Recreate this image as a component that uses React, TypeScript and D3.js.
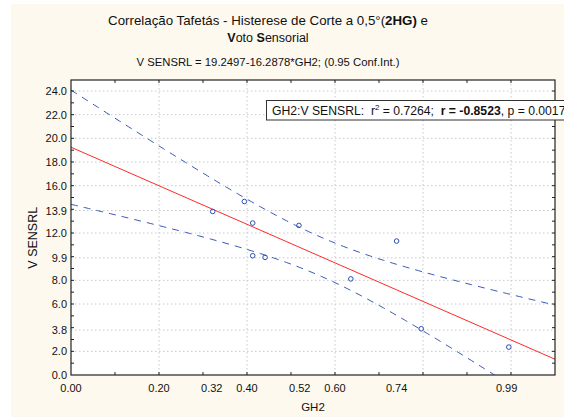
import * as d3 from "d3";
import React, { useEffect, useRef } from "react";

// readings of GH2 / V SENSRL off the reference
const gh2 = [0.322, 0.394, 0.413, 0.413, 0.441, 0.518, 0.636, 0.74, 0.796, 0.995];
const vsens = [13.82, 14.66, 12.84, 10.08, 9.94, 12.64, 8.12, 11.32, 3.91, 2.36];

const xTickLabels = [0.0, 0.2, 0.32, 0.4, 0.52, 0.6, 0.74, 0.99];
const yTickLabels = [0.0, 2.0, 3.8, 6.0, 8.0, 9.9, 12.0, 13.9, 16.0, 18.0, 20.0, 22.0, 24.0];
const xGrid = [0.2, 0.4, 0.6, 0.8, 1.0];

const intercept = 19.2497;
const slope = -16.2878;
const tCrit = 2.306; // t(0.975, 8)

const App = () => {
  const ref = useRef<SVGSVGElement>(null);

  useEffect(() => {
    const width = 564;
    const height = 417;
    const left = 71;
    const right = 555;
    const top = 80;
    const bottom = 375;

    const svg = d3.select(ref.current).attr("width", width).attr("height", height);
    svg.selectAll("*").remove();

    const x = d3.scaleLinear().domain([0, 1.1]).range([left, right]);
    const y = d3.scaleLinear().domain([0, 24.93]).range([bottom, top]);

    svg
      .append("rect")
      .attr("x", 11)
      .attr("y", 4)
      .attr("width", width)
      .attr("height", height)
      .attr("fill", "#fdf9ef");

    svg
      .append("defs")
      .append("clipPath")
      .attr("id", "plot")
      .append("rect")
      .attr("x", left)
      .attr("y", top)
      .attr("width", right - left)
      .attr("height", bottom - top);

    svg
      .append("rect")
      .attr("x", left)
      .attr("y", top)
      .attr("width", right - left)
      .attr("height", bottom - top)
      .attr("fill", "#ffffff");

    const grid = svg.append("g").attr("stroke", "#c8c8c8").attr("stroke-dasharray", "1.5,2.5");
    grid
      .selectAll("line.v")
      .data(xGrid)
      .join("line")
      .attr("class", "v")
      .attr("x1", (d) => x(d))
      .attr("x2", (d) => x(d))
      .attr("y1", top)
      .attr("y2", bottom);
    grid
      .selectAll("line.h")
      .data(yTickLabels.slice(1))
      .join("line")
      .attr("class", "h")
      .attr("x1", left)
      .attr("x2", right)
      .attr("y1", (d) => y(d))
      .attr("y2", (d) => y(d));

    // confidence band for the mean
    const n = gh2.length;
    const xMean = d3.mean(gh2);
    const sxx = d3.sum(gh2, (d) => (d - xMean) ** 2);
    const sse = d3.sum(gh2, (d, i) => (vsens[i] - (intercept + slope * d)) ** 2);
    const s = Math.sqrt(sse / (n - 2));
    const half = (v) => tCrit * s * Math.sqrt(1 / n + (v - xMean) ** 2 / sxx);
    const xs = d3.range(0, 1.1001, 0.01);

    const plot = svg.append("g").attr("clip-path", "url(#plot)");

    const band = d3
      .line()
      .x((d) => x(d[0]))
      .y((d) => y(d[1]));

    plot
      .selectAll("path.ci")
      .data([1, -1])
      .join("path")
      .attr("class", "ci")
      .attr("d", (k) => band(xs.map((v) => [v, intercept + slope * v + k * half(v)])))
      .attr("fill", "none")
      .attr("stroke", "#3a5cb4")
      .attr("stroke-width", 1)
      .attr("stroke-dasharray", "7,6");

    plot
      .append("line")
      .attr("x1", x(0))
      .attr("x2", x(1.1))
      .attr("y1", y(intercept))
      .attr("y2", y(intercept + slope * 1.1))
      .attr("stroke", "#ff2a2a")
      .attr("stroke-width", 1);

    plot
      .selectAll("circle")
      .data(gh2)
      .join("circle")
      .attr("cx", (d) => x(d))
      .attr("cy", (_, i) => y(vsens[i]))
      .attr("r", 2.3)
      .attr("fill", "none")
      .attr("stroke", "#2f4fae")
      .attr("stroke-width", 1);

    // frame and inward ticks
    svg
      .append("rect")
      .attr("x", left)
      .attr("y", top)
      .attr("width", right - left)
      .attr("height", bottom - top)
      .attr("fill", "none")
      .attr("stroke", "#222")
      .attr("stroke-width", 1.2);

    const ticks = svg.append("g").attr("stroke", "#222");
    const xMinor = d3.range(1, 11).map((i) => i / 10);
    const yMinor = d3.range(1, 25);
    ticks
      .selectAll("line.xb")
      .data(xMinor)
      .join("line")
      .attr("x1", (d) => x(d))
      .attr("x2", (d) => x(d))
      .attr("y1", bottom)
      .attr("y2", bottom - 3);
    ticks
      .selectAll("line.xt")
      .data(xMinor)
      .join("line")
      .attr("class", "xt")
      .attr("x1", (d) => x(d))
      .attr("x2", (d) => x(d))
      .attr("y1", top)
      .attr("y2", top + 3);
    ticks
      .selectAll("line.yl")
      .data(yMinor)
      .join("line")
      .attr("class", "yl")
      .attr("x1", left)
      .attr("x2", left + 3)
      .attr("y1", (d) => y(d))
      .attr("y2", (d) => y(d));
    ticks
      .selectAll("line.yr")
      .data(yMinor)
      .join("line")
      .attr("class", "yr")
      .attr("x1", right)
      .attr("x2", right - 3)
      .attr("y1", (d) => y(d))
      .attr("y2", (d) => y(d));

    const font = "Liberation Sans, Arial, sans-serif";

    svg
      .append("g")
      .selectAll("text")
      .data(xTickLabels)
      .join("text")
      .attr("x", (d) => x(d))
      .attr("y", 392)
      .attr("text-anchor", "middle")
      .attr("font-family", font)
      .attr("font-size", 11)
      .attr("fill", "#111")
      .text((d) => d3.format(".2f")(d));

    svg
      .append("g")
      .selectAll("text")
      .data(yTickLabels)
      .join("text")
      .attr("x", 67)
      .attr("y", (d) => y(d) + 4)
      .attr("text-anchor", "end")
      .attr("font-family", font)
      .attr("font-size", 11)
      .attr("fill", "#111")
      .text((d) => d3.format(".1f")(d));

    svg
      .append("text")
      .attr("x", x(0.55))
      .attr("y", 411)
      .attr("text-anchor", "middle")
      .attr("font-family", font)
      .attr("font-size", 11.5)
      .attr("fill", "#111")
      .text("GH2");

    svg
      .append("text")
      .attr("transform", `translate(37, ${y(11.6)}) rotate(-90)`)
      .attr("text-anchor", "middle")
      .attr("font-family", font)
      .attr("font-size", 12.5)
      .attr("fill", "#111")
      .text("V SENSRL");

    // title
    const t1 = svg
      .append("text")
      .attr("x", 268)
      .attr("y", 25)
      .attr("text-anchor", "middle")
      .attr("font-family", font)
      .attr("font-size", 13.3)
      .attr("fill", "#111");
    t1.append("tspan").text("Correlação Tafetás - Histerese de Corte a 0,5°(");
    t1.append("tspan").attr("font-weight", "bold").text("2HG)");
    t1.append("tspan").text(" e");

    const t2 = svg
      .append("text")
      .attr("x", 268)
      .attr("y", 42)
      .attr("text-anchor", "middle")
      .attr("font-family", font)
      .attr("font-size", 12.5)
      .attr("fill", "#111");
    t2.append("tspan").attr("font-weight", "bold").text("V");
    t2.append("tspan").text("oto ");
    t2.append("tspan").attr("font-weight", "bold").text("S");
    t2.append("tspan").text("ensorial");

    svg
      .append("text")
      .attr("x", 268)
      .attr("y", 66)
      .attr("text-anchor", "middle")
      .attr("font-family", font)
      .attr("font-size", 11.3)
      .attr("fill", "#111")
      .text("V SENSRL = 19.2497-16.2878*GH2; (0.95 Conf.Int.)");

    // stats box
    svg
      .append("rect")
      .attr("x", 266.5)
      .attr("y", 100.5)
      .attr("width", 330)
      .attr("height", 19.5)
      .attr("fill", "#ffffff")
      .attr("stroke", "#333");

    const st = svg
      .append("text")
      .attr("x", 272)
      .attr("y", 115)
      .attr("font-family", font)
      .attr("font-size", 12.2)
      .attr("fill", "#111")
      .attr("xml:space", "preserve");
    st.append("tspan").text("GH2:V SENSRL:  r");
    st.append("tspan").attr("font-size", 8).attr("dy", -5).text("2");
    st.append("tspan").attr("dy", 5).text(" = 0.7264;  ");
    st.append("tspan").attr("font-weight", "bold").text("r = -0.8523");
    st.append("tspan").text(", p = 0.0017");
  }, []);

  return (
    <svg
      ref={ref}
      style={{ position: "absolute", left: 0, top: 0, background: "#ffffff" }}
    />
  );
};

export default App;
